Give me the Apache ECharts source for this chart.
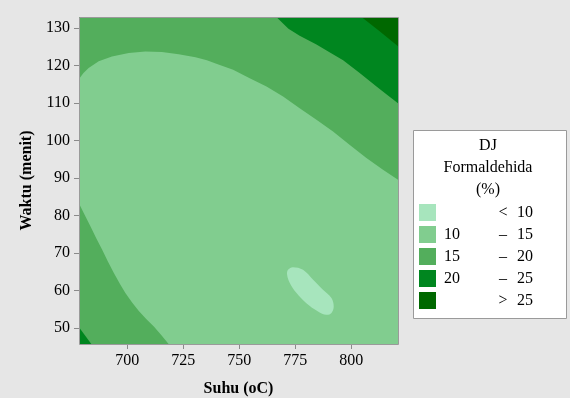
<!DOCTYPE html>
<html>
<head>
<meta charset="utf-8">
<script src="https://cdn.jsdelivr.net/npm/echarts@6/dist/echarts.min.js"></script>
<style>
  html, body { margin: 0; padding: 0; background: #e6e6e6; }
  #chart { width: 570px; height: 398px; }
</style>
</head>
<body>
<div id="chart"></div>
<script>
// Axis ranges and tick values
const xMin = 678.5, xMax = 820.9;   // Suhu (oC)
const yMin = 45.7, yMax = 132.9;    // Waktu (menit)
const xTicks = [700, 725, 750, 775, 800];
const yTicks = [50, 60, 70, 80, 90, 100, 110, 120, 130];

// Contour boundaries as [suhu, waktu] pairs
const upper15 = [[678.5, 116.4], [680.5, 118.0], [682.8, 119.3], [687.3, 121.1], [693.2, 122.4],
  [700.7, 123.3], [708.1, 123.7], [715.5, 123.6], [723.0, 123.0], [730.5, 122.2], [735.6, 121.4],
  [739.8, 120.45], [747.3, 118.85], [754.7, 116.6], [762.2, 114.4], [769.6, 111.7], [777.0, 108.6],
  [784.5, 105.5], [791.9, 102.4], [799.4, 98.8], [806.8, 95.3], [814.2, 92.2], [820.9, 89.5]];
const upper20 = [[766.6, 132.9], [772.0, 129.8], [777.0, 127.9], [780.0, 127.0], [784.5, 125.6],
  [789.0, 124.0], [796.4, 121.4], [803.8, 118.0], [811.3, 114.4], [816.0, 112.2], [820.9, 109.9]];
const upper25 = [[804.6, 132.9], [812.7, 129.1], [820.9, 125.1]];
const lower15 = [[678.5, 83.2], [681.0, 80.2], [683.6, 77.1], [686.2, 73.9], [688.8, 70.9],
  [691.4, 67.7], [694.0, 64.7], [696.6, 61.9], [699.2, 59.3], [702.2, 56.8], [705.2, 54.5],
  [708.5, 52.4], [711.9, 50.4], [715.2, 48.1], [718.5, 45.7]];
const lower20 = [[678.5, 50.2], [684.0, 45.7]];
const below10 = [[771.8, 65.5], [774.0, 66.2], [778.5, 65.5], [783.0, 62.85], [787.4, 60.2],
  [791.2, 58.0], [792.2, 55.7], [791.2, 54.0], [788.9, 53.5], [785.2, 54.4], [780.0, 56.6],
  [775.6, 59.3], [772.6, 62.0], [771.4, 64.2]];

// Legend rows
const legendLow = ['', '10', '15', '20', ''];
const legendOp = ['<', '\u2013', '\u2013', '\u2013', '>'];
const legendHigh = ['10', '15', '20', '25', '25'];
const legendTitle = ['DJ', 'Formaldehida', '(%)'];
const levelColors = ['#a7e5bd', '#81cd8f', '#53ae5c', '#00861f', '#006800'];

const serif = "'Liberation Serif', 'Times New Roman', serif";
const gridBox = { left: 79, top: 17, width: 319, height: 327 };

function region(points, closure, color, smooth) {
  const pts = points.concat(closure);
  return {
    type: 'custom',
    coordinateSystem: 'cartesian2d',
    clip: true,
    silent: true,
    data: pts,
    renderItem: function (params, api) {
      if (params.dataIndex !== 0) return null;
      return {
        type: 'polygon',
        shape: { points: pts.map(function (p) { return api.coord(p); }), smooth: smooth || 0 },
        style: { fill: color, stroke: null }
      };
    }
  };
}

const graphics = [{
  type: 'rect', z: 100, silent: true,
  shape: { x: gridBox.left + 0.5, y: gridBox.top + 0.5, width: gridBox.width, height: gridBox.height },
  style: { fill: null, stroke: '#9a9a9a', lineWidth: 1 }
}, {
  type: 'rect', z: 100, silent: true,
  shape: { x: 413.5, y: 130.5, width: 153, height: 188 },
  style: { fill: '#ffffff', stroke: '#9a9a9a', lineWidth: 1 }
}];
legendTitle.forEach(function (t, i) {
  graphics.push({
    type: 'text', z: 101, silent: true, x: 488, y: 145.5 + i * 22,
    style: { text: t, font: '16px ' + serif, fill: '#000', align: 'center', verticalAlign: 'middle' }
  });
});
levelColors.forEach(function (c, i) {
  const cy = 212.5 + i * 22;
  graphics.push({
    type: 'rect', z: 101, silent: true,
    shape: { x: 419, y: cy - 8.5, width: 17, height: 17 },
    style: { fill: c }
  });
  graphics.push({
    type: 'text', z: 101, silent: true, x: 444, y: cy,
    style: { text: legendLow[i], font: '16px ' + serif, fill: '#000', align: 'left', verticalAlign: 'middle' }
  });
  graphics.push({
    type: 'text', z: 101, silent: true, x: 503, y: cy,
    style: { text: legendOp[i], font: '16px ' + serif, fill: '#000', align: 'center', verticalAlign: 'middle' }
  });
  graphics.push({
    type: 'text', z: 101, silent: true, x: 517, y: cy,
    style: { text: legendHigh[i], font: '16px ' + serif, fill: '#000', align: 'left', verticalAlign: 'middle' }
  });
});

const chart = echarts.init(document.getElementById('chart'), null, { renderer: 'canvas' });
chart.setOption({
  backgroundColor: '#e6e6e6',
  animation: false,
  grid: {
    left: gridBox.left, top: gridBox.top, width: gridBox.width, height: gridBox.height,
    show: true, backgroundColor: levelColors[1], borderWidth: 0,
    containLabel: false, outerBoundsMode: 'none'
  },
  xAxis: {
    type: 'value', min: xMin, max: xMax,
    name: 'Suhu (oC)', nameLocation: 'middle', nameGap: 37,
    nameTextStyle: { fontFamily: serif, fontSize: 16, fontWeight: 'bold', color: '#000' },
    axisLine: { show: false },
    axisTick: { show: true, length: 5, customValues: xTicks, lineStyle: { color: '#8a8a8a' } },
    axisLabel: { customValues: xTicks, fontFamily: serif, fontSize: 16, color: '#000', margin: 9 },
    splitLine: { show: false }
  },
  yAxis: {
    type: 'value', min: yMin, max: yMax,
    name: 'Waktu (menit)', nameLocation: 'middle', nameGap: 44,
    nameTextStyle: { fontFamily: serif, fontSize: 16, fontWeight: 'bold', color: '#000' },
    axisLine: { show: false },
    axisTick: { show: true, length: 5, customValues: yTicks, lineStyle: { color: '#8a8a8a' } },
    axisLabel: { customValues: yTicks, fontFamily: serif, fontSize: 16, color: '#000', margin: 9 },
    splitLine: { show: false }
  },
  series: [
    region(upper15, [[xMax, yMax], [xMin, yMax]], levelColors[2]),
    region(upper20, [[xMax, yMax]], levelColors[3]),
    region(upper25, [[xMax, yMax]], levelColors[4]),
    region(lower15, [[xMin, yMin]], levelColors[2]),
    region(lower20, [[xMin, yMin]], levelColors[3]),
    region(below10, [], levelColors[0], 0.35)
  ],
  graphic: graphics
});
</script>
</body>
</html>
